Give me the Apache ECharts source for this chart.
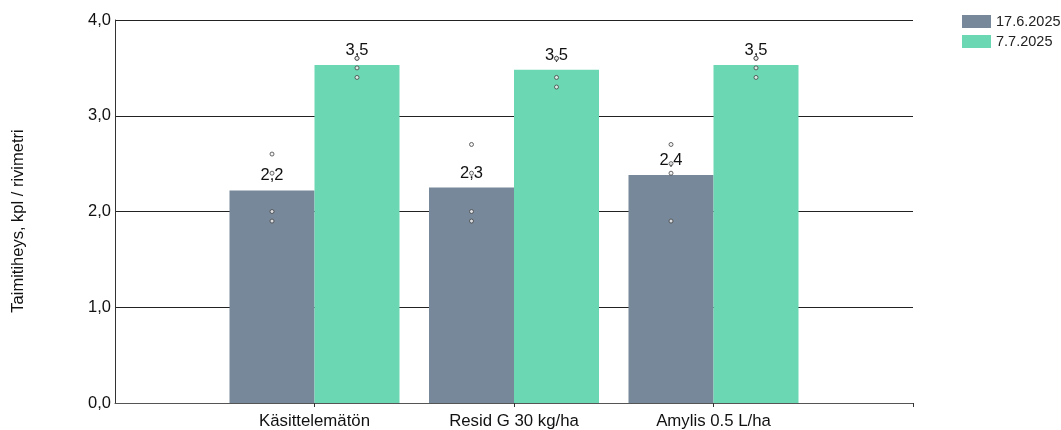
<!DOCTYPE html>
<html><head><meta charset="utf-8">
<script src="https://cdn.jsdelivr.net/npm/echarts@6/dist/echarts.min.js"></script>
<style>html,body{margin:0;padding:0;background:#fff}#c{width:1061px;height:430px}</style>
</head><body><div id="c"></div>
<script>
const categories = ['', 'Käsittelemätön', 'Resid G 30 kg/ha', 'Amylis 0.5 L/ha', ''];
const seriesNames = ['17.6.2025', '7.7.2025'];
const yAxisTitle = 'Taimitiheys, kpl / rivimetri';
const meansJune = [null, 2.22, 2.25, 2.38, null];
const meansJuly = [null, 3.53, 3.48, 3.53, null];
const repsJune = [[1, 2.6], [1, 2.4], [1, 2.0], [1, 1.9], [2, 2.7], [2, 2.4], [2, 2.0], [2, 1.9], [3, 2.7], [3, 2.5], [3, 2.4], [3, 1.9]];
const repsJuly = [[1, 3.6], [1, 3.6], [1, 3.5], [1, 3.4], [2, 3.6], [2, 3.6], [2, 3.4], [2, 3.3], [3, 3.6], [3, 3.6], [3, 3.5], [3, 3.4]];
const yTicks = [0, 1, 2, 3, 4];

const colors = ['#77889a', '#6bd8b3'];
const font = 'Liberation Sans, Arial, sans-serif';
const fmt = v => v.toFixed(1).replace('.', ',');

const chart = echarts.init(document.getElementById('c'), null, {renderer: 'canvas'});
const dotStyle = {color: '#f2f2f2', borderColor: '#444', borderWidth: 1};
chart.setOption({
  animation: false,
  textStyle: {fontFamily: font},
  grid: {left: 115, right: 148, top: 20, bottom: 27, containLabel: false},
  legend: {
    orient: 'vertical', left: 962, top: 14, itemWidth: 29, itemHeight: 13, itemGap: 5, padding: 0,
    data: seriesNames, icon: 'rect',
    textStyle: {fontFamily: font, fontSize: 14.5, color: '#222'}
  },
  graphic: [{
    type: 'text', x: 18, y: 221, rotation: Math.PI / 2, silent: true,
    style: {text: yAxisTitle, fontFamily: font, fontSize: 16.5, fill: '#111', align: 'center', verticalAlign: 'middle'}
  }],
  xAxis: {
    type: 'category', data: categories, boundaryGap: false,
    axisLine: {lineStyle: {color: '#555', width: 1}},
    axisTick: {show: true, length: 4, interval: (i) => i !== 0, lineStyle: {color: '#333'}},
    axisLabel: {fontFamily: font, fontSize: 16.8, color: '#111', margin: 10, interval: 0}
  },
  yAxis: {
    type: 'value', min: yTicks[0], max: yTicks[yTicks.length - 1], interval: 1,
    axisLine: {show: true, lineStyle: {color: '#333', width: 1}},
    axisTick: {show: false},
    axisLabel: {fontFamily: font, fontSize: 16.5, color: '#111', margin: 4, formatter: v => fmt(v)},
    splitLine: {show: true, lineStyle: {color: '#222', width: 1}}
  },
  series: [
    {name: seriesNames[0], type: 'bar', data: meansJune, barWidth: 85, barGap: '0%',
     itemStyle: {color: colors[0]},
     label: {show: true, position: 'top', distance: 6, fontFamily: font, fontSize: 16.5, color: '#111',
             formatter: p => p.value == null ? '' : fmt(p.value)}},
    {name: seriesNames[1], type: 'bar', data: meansJuly, barWidth: 85, barGap: '0%',
     itemStyle: {color: colors[1]},
     label: {show: true, position: 'top', distance: 6, fontFamily: font, fontSize: 16.5, color: '#111',
             formatter: p => p.value == null ? '' : fmt(p.value)}},
    {type: 'scatter', data: repsJune, symbol: 'circle', symbolSize: 4, symbolOffset: [-42.5, 0],
     itemStyle: dotStyle, z: 5, silent: true},
    {type: 'scatter', data: repsJuly, symbol: 'circle', symbolSize: 4, symbolOffset: [42.5, 0],
     itemStyle: dotStyle, z: 5, silent: true}
  ]
});
</script></body></html>
